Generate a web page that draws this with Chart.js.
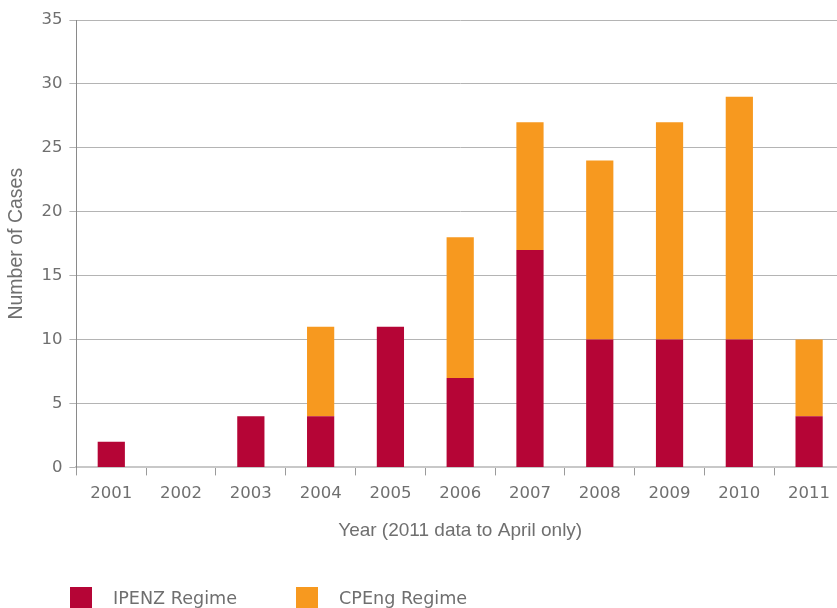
<html>

<head>
  <script src="https://cdn.jsdelivr.net/npm/chart.js"></script>
  <style>
    html, body { margin: 0; padding: 0; overflow: hidden; background: #fff; }
    #wrap { width: 844px; height: 608px; }
  </style>
</head>

<body>
  <div id="wrap">
    <canvas id="myChart" width="844" height="608"></canvas>
  </div>
  <script>
    const years = ['2001', '2002', '2003', '2004', '2005', '2006', '2007', '2008', '2009', '2010', '2011'];
    const ipenz = [2, 0, 4, 4, 11, 7, 17, 10, 10, 10, 4];
    const cpeng = [0, 0, 0, 7, 0, 11, 10, 14, 17, 19, 6];
    const yTicks = [0, 5, 10, 15, 20, 25, 30, 35];

    const font = 'Liberation Sans';
    const tickFont = 'DejaVu Sans';
    const grey = '#6f6f6f';

    // legend drawn by hand at the bottom, partly cut off like the original
    const bottomLegend = {
      id: 'bottomLegend',
      afterDraw(chart) {
        const c = chart.ctx;
        let x = 70;
        c.save();
        c.font = '17.6px "' + tickFont + '"';
        c.textBaseline = 'middle';
        chart.data.datasets.forEach(ds => {
          c.fillStyle = ds.backgroundColor;
          c.fillRect(x, 587, 22, 22);
          c.fillStyle = grey;
          c.fillText(ds.label, x + 43, 599);
          x += 43 + c.measureText(ds.label).width + 59;
        });
        c.restore();
      }
    };

    var ctx = document.getElementById('myChart').getContext('2d');
    var grafica = new Chart(ctx, {
      type: 'bar',
      data: {
        labels: years,
        datasets: [{
          label: 'IPENZ Regime',
          data: ipenz,
          backgroundColor: '#b50536',
          barPercentage: 0.39,
          categoryPercentage: 1
        }, {
          label: 'CPEng Regime',
          data: cpeng,
          backgroundColor: '#f7991f',
          barPercentage: 0.39,
          categoryPercentage: 1
        }]
      },
      plugins: [bottomLegend],
      options: {
        responsive: false,
        animation: false,
        layout: { padding: { left: 5, top: 20, right: 0, bottom: 56 } },
        plugins: {
          tooltip: { enabled: false },
          legend: { display: false }
        },
        scales: {
          x: {
            stacked: true,
            grid: {
              offset: true,
              drawOnChartArea: false,
              drawTicks: true,
              tickLength: 8,
              color: '#9a9a9a'
            },
            border: { color: '#c8c8c8', width: 2 },
            ticks: { color: grey, font: { family: tickFont, size: 16.5 }, padding: 8 },
            title: {
              display: true,
              text: 'Year (2011 data to April only)',
              color: grey,
              font: { family: font, size: 19 },
              padding: { top: 8, bottom: 10 }
            }
          },
          y: {
            stacked: true,
            min: 0,
            max: 35,
            afterBuildTicks: (axis) => { axis.ticks = yTicks.map(v => ({ value: v })); },
            grid: { color: '#b4b4b4', lineWidth: 1, tickLength: 7 },
            border: { color: '#8a8a8a', width: 1 },
            ticks: { color: grey, font: { family: tickFont, size: 16.5 }, padding: 7 },
            title: {
              display: true,
              text: 'Number of Cases',
              color: grey,
              font: { family: font, size: 19.5 },
              padding: { top: 0, bottom: 6 }
            }
          }
        }
      }
    });
  </script>
</body>

</html>
